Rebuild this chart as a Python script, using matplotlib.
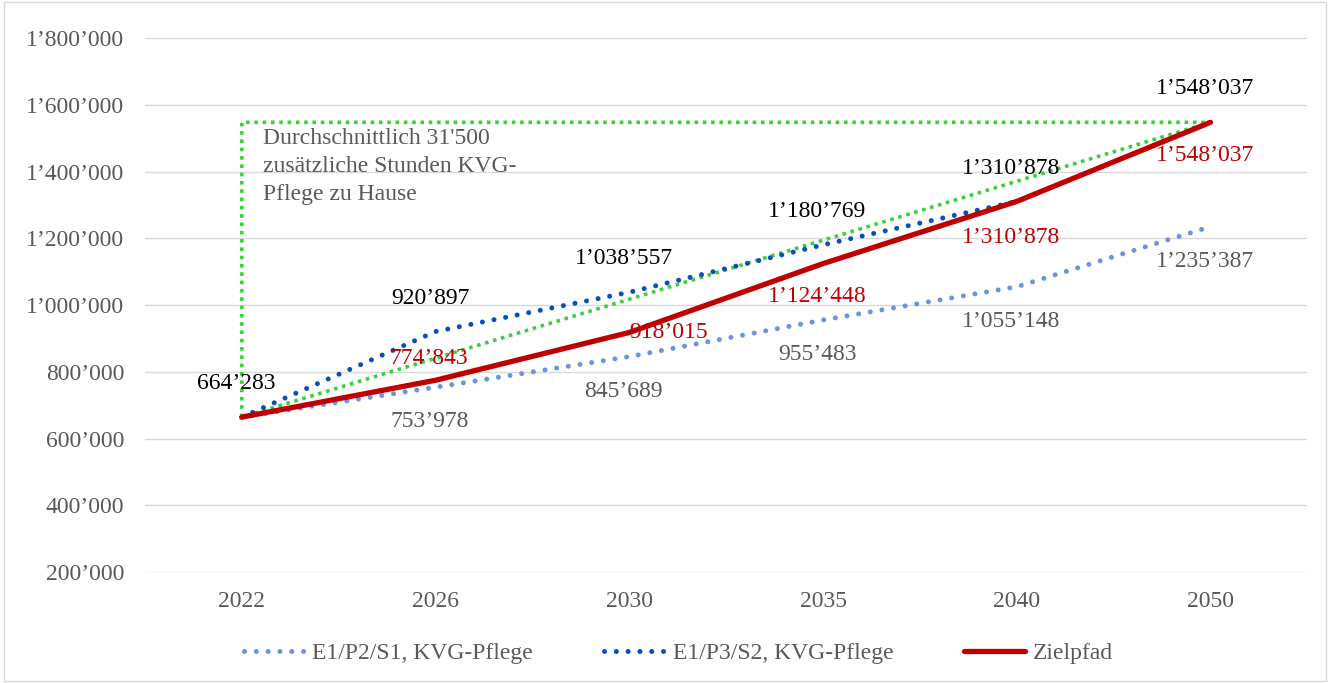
import numpy as np
import matplotlib.pyplot as plt
from matplotlib.patches import Rectangle
from matplotlib.ticker import FuncFormatter

# data
jahre = ['2022', '2026', '2030', '2035', '2040', '2050']
p2_s1 = [664283, 753978, 845689, 955483, 1055148, 1235387]
p3_s2 = [664283, 920897, 1038557, 1180769, 1310878]
zielpfad = [664283, 774843, 918015, 1124448, 1310878, 1548037]
notiz = "Durchschnittlich 31'500\nzusätzliche Stunden KVG-\nPflege zu Hause"


def fmt(v):
    return f"{v:,.0f}".replace(",", "\u2019")


plt.rcParams['font.family'] = ['Liberation Serif', 'DejaVu Serif']

fig = plt.figure(figsize=(13.3, 6.83), dpi=100)
ax = fig.add_axes([0.109, 0.1625, 0.874, 0.7815])
fig.patches.append(Rectangle((0.003, 0.003), 0.994, 0.994, transform=fig.transFigure,
                             fill=False, edgecolor='#d9d9d9', linewidth=1))

x = np.arange(len(jahre))
grau = '#595959'

# gruenes Dreieck
gx = [x[0], x[0], x[-1], x[0]]
gy = [zielpfad[0], zielpfad[-1], zielpfad[-1], zielpfad[0]]
ax.plot(gx, gy, color='#3ccf3c', linewidth=2.6, linestyle=(0, (1.0, 1.3)),
        dash_capstyle='butt', zorder=3)

l1, = ax.plot(x, p2_s1, color='#6a96d8', linewidth=3.6, linestyle=(0, (0.01, 2.35)),
              dash_capstyle='round', label='E1/P2/S1, KVG-Pflege', zorder=4)
l2, = ax.plot(x[:len(p3_s2)], p3_s2, color='#0a4fb8', linewidth=3.6,
              linestyle=(0, (0.01, 2.35)), dash_capstyle='round',
              label='E1/P3/S2, KVG-Pflege', zorder=4)
l3, = ax.plot(x, zielpfad, color='#c00000', linewidth=3.8, solid_capstyle='round',
              solid_joinstyle='round', label='Zielpfad', zorder=5)

fs = 17
# Beschriftungen
for i, v in enumerate(p3_s2):
    ax.annotate(fmt(v), (x[i], v), xytext=(-4, 24), textcoords='offset points',
                ha='center', va='center', fontsize=fs, color='black', zorder=6)
ax.annotate(fmt(zielpfad[-1]), (x[-1], zielpfad[-1]), xytext=(-4, 24),
            textcoords='offset points', ha='center', va='center', fontsize=fs,
            color='black', zorder=6)
for i, v in enumerate(p2_s1[1:], start=1):
    ax.annotate(fmt(v), (x[i], v), xytext=(-4, -25), textcoords='offset points',
                ha='center', va='center', fontsize=fs, color=grau, zorder=6)
rot_off = [None, (-5, 16), (28, 0), (-4, -24), (-4, -26), (-4, -24)]
for i, v in enumerate(zielpfad):
    if rot_off[i] is None:
        continue
    ax.annotate(fmt(v), (x[i], v), xytext=rot_off[i], textcoords='offset points',
                ha='center', va='center', fontsize=fs, color='#c00000', zorder=6)

ax.text(0.11, 1530000, notiz, fontsize=fs, color=grau, ha='left', va='top',
        linespacing=1.42)

ax.set_xlim(-0.5, len(jahre) - 0.5)
ax.set_ylim(200000, 1800000)
ax.set_xticks(x)
ax.set_xticklabels(jahre)
ax.set_yticks(np.arange(200000, 1800001, 200000))
ax.yaxis.set_major_formatter(FuncFormatter(lambda v, p: fmt(v)))
ax.tick_params(length=0, labelsize=fs, colors=grau, pad=15)
ax.tick_params(axis='x', pad=14)
ax.grid(axis='y', color='#d9d9d9', linewidth=1)
ax.set_axisbelow(True)
for s in ax.spines.values():
    s.set_visible(False)

fig.legend(handles=[l1, l2, l3], loc='center', bbox_to_anchor=(0.51, 0.043),
           ncol=3, frameon=False, fontsize=fs, labelcolor=grau,
           handlelength=2.6, columnspacing=3.0, handletextpad=0.3)

fig.savefig('out.png', dpi=100)
